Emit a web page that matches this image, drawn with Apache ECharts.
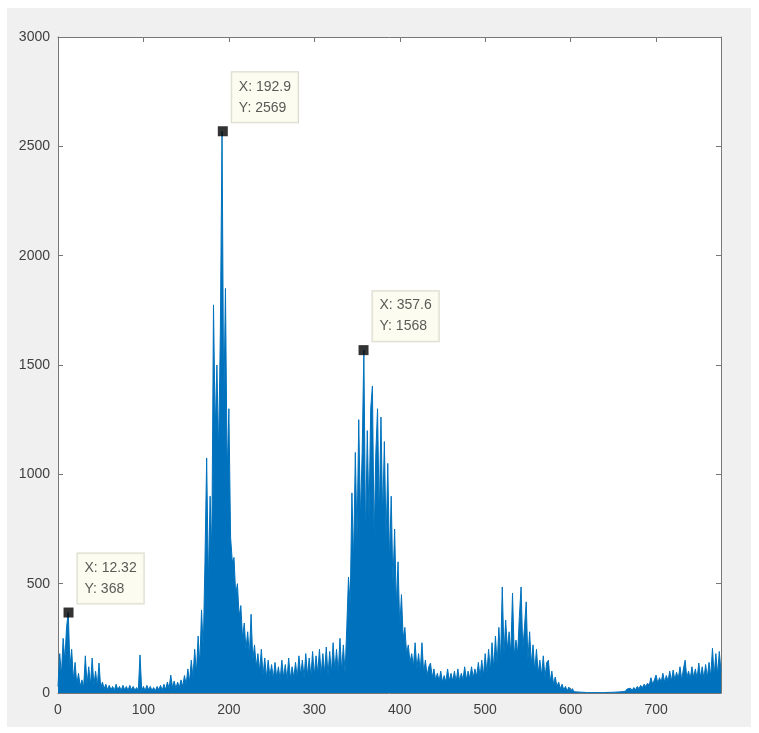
<!DOCTYPE html>
<html>
<head>
<meta charset="utf-8">
<script src="https://cdn.jsdelivr.net/npm/echarts@6/dist/echarts.min.js"></script>
<style>
html,body{margin:0;padding:0;background:#fff;}
#chart{width:759px;height:733px;}
</style>
</head>
<body>
<div id="chart"></div>
<script>
// Sampling grid of the signal (x from 0 to 776 in steps of 2)
const xStart = 0;
const xStep = 2;
// Amplitude values, one per sample (spike tops alternating with the dense core level)
const amplitude = [
  30,180,80,250,150,300,368,120,200,60,
  140,40,90,30,60,25,170,40,120,35,
  160,35,100,30,137,25,50,20,40,15,
  35,15,30,12,40,15,30,12,35,15,
  30,12,35,15,30,12,25,10,174,12,
  30,10,35,15,30,12,25,10,30,15,
  35,12,40,15,50,20,82,25,55,20,
  50,25,60,30,80,40,110,50,150,70,
  200,90,260,130,380,200,600,1075,500,900,
  650,1775,1200,1500,1100,1650,2569,1300,1850,1000,
  1300,713,600,620,450,500,350,400,250,320,
  200,280,170,360,150,220,120,180,100,200,
  80,160,70,150,75,130,65,140,70,120,
  60,150,70,130,60,160,65,120,70,140,
  70,170,80,150,70,180,80,160,75,190,
  80,170,90,200,85,180,90,210,80,190,
  90,230,100,200,90,250,100,220,90,300,
  530,400,915,600,1100,700,1250,800,1100,1568,
  700,1200,800,1300,1404,700,1100,1300,800,1262,
  800,1150,700,1050,600,900,500,750,400,600,
  300,450,250,300,180,220,140,180,120,230,
  110,180,100,230,90,150,80,120,137,70,
  110,60,90,55,100,50,80,50,110,55,
  90,55,100,50,110,55,90,60,120,60,
  100,65,120,70,110,75,140,73,150,80,
  180,90,200,100,230,110,260,130,300,150,
  485,180,333,200,280,180,457,170,242,180,
  350,485,200,300,417,150,280,130,220,100,
  200,90,150,80,170,70,140,150,50,100,
  40,73,30,50,20,40,15,30,10,27,
  8,20,6,15,5,10,4,8,3,6,
  2,5,2,4,2,4,2,3,2,4,
  2,5,3,6,3,8,4,10,5,12,
  6,15,8,18,10,22,12,25,15,30,
  20,35,25,40,30,45,35,70,40,60,
  82,45,70,50,90,50,80,55,100,55,
  105,60,95,65,120,60,110,150,70,100,
  65,120,70,110,65,137,70,120,65,130,
  70,140,75,205,80,180,85,190,100
];
// Data tips
const tipX = [12.32, 192.9, 357.6];
const tipY = [368, 2569, 1568];
const tipXText = ['12.32', '192.9', '357.6'];
const tipYText = ['368', '2569', '1568'];
// Axes
const xMin = 0, xMax = 776, xInterval = 100;
const yMin = 0, yMax = 3000, yInterval = 500;

const signal = amplitude.map((v, i) => [xStart + i * xStep, v]);
const tips = tipX.map((x, i) => ({ value: [x, tipY[i]], tx: tipXText[i], ty: tipYText[i] }));

const chart = echarts.init(document.getElementById('chart'), null, { renderer: 'canvas' });
const font = '"Liberation Sans", Helvetica, Arial, sans-serif';
const axisColor = '#777';
const baseX = {
  type: 'value', min: xMin, max: xMax, interval: xInterval,
  splitLine: { show: false },
  axisLine: { show: true, onZero: false, lineStyle: { color: axisColor, width: 1 } },
  axisTick: { show: true, inside: true, length: 5, lineStyle: { color: axisColor } }
};
const baseY = {
  type: 'value', min: yMin, max: yMax, interval: yInterval,
  splitLine: { show: false },
  axisLine: { show: true, onZero: false, lineStyle: { color: axisColor, width: 1 } },
  axisTick: { show: true, inside: true, length: 5, lineStyle: { color: axisColor } }
};
chart.setOption({
  animation: false,
  backgroundColor: '#fff',
  graphic: [{
    type: 'rect', z: -10, silent: true,
    shape: { x: 7, y: 8, width: 744, height: 719 },
    style: { fill: '#f0f0f0' }
  }],
  grid: { left: 58, top: 37, right: 38, bottom: 40, show: true, backgroundColor: '#fff', borderWidth: 0 },
  xAxis: [
    Object.assign({}, baseX, {
      position: 'bottom',
      axisLabel: { show: true, margin: 10, color: '#404040', fontSize: 14, fontFamily: font, showMaxLabel: false, formatter: v => String(v) }
    }),
    Object.assign({}, baseX, { position: 'top', axisLabel: { show: false } })
  ],
  yAxis: [
    Object.assign({}, baseY, {
      position: 'left',
      axisLabel: { show: true, margin: 8, color: '#404040', fontSize: 14, fontFamily: font, formatter: v => String(v) }
    }),
    Object.assign({}, baseY, { position: 'right', axisLabel: { show: false } })
  ],
  series: [
    {
      type: 'line', data: signal, xAxisIndex: 0, yAxisIndex: 0,
      showSymbol: false, symbol: 'none', sampling: null,
      lineStyle: { color: '#0072BD', width: 1 },
      areaStyle: { color: '#0072BD', opacity: 1, origin: 'start' },
      z: 2
    },
    {
      type: 'scatter', data: tips, xAxisIndex: 0, yAxisIndex: 0,
      symbol: 'rect', symbolSize: 10,
      itemStyle: { color: '#000' },
      z: 5,
      label: {
        show: true,
        position: [14, -54],
        formatter: p => 'X: ' + p.data.tx + '\nY: ' + p.data.ty,
        backgroundColor: '#fbfbee',
        borderColor: '#cfcfbf',
        borderWidth: 1,
        padding: [4, 7, 4, 7],
        lineHeight: 21,
        fontSize: 14,
        fontFamily: font,
        color: '#303030',
        align: 'left',
        verticalAlign: 'top'
      }
    }
  ]
});
</script>
</body>
</html>
